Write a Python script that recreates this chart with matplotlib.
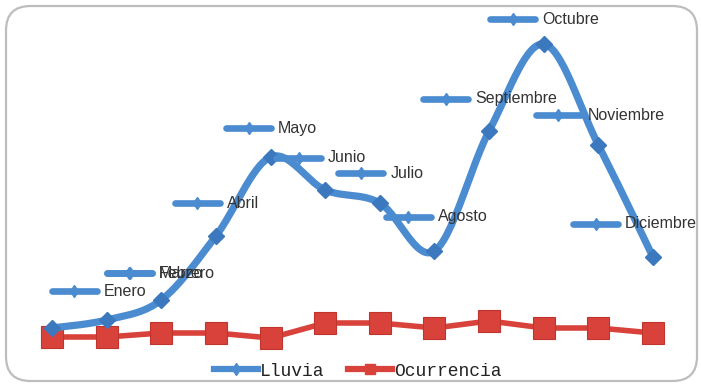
import numpy as np
import matplotlib.pyplot as plt
from matplotlib.lines import Line2D
from matplotlib.patches import FancyBboxPatch
from matplotlib.offsetbox import AnnotationBbox, DrawingArea, TextArea, HPacker

meses = ["Enero", "Febrero", "Marzo", "Abril", "Mayo", "Junio", "Julio",
         "Agosto", "Septiembre", "Octubre", "Noviembre", "Diciembre"]
lluvia = [22, 30, 50, 114, 193, 160, 147, 99, 219, 306, 205, 93]
ocurrencia = [13, 13, 17, 17, 12, 27, 27, 22, 29, 22, 22, 17]

# label box offsets (px right, px up) from each point
label_off = [(47, 37), (54, 47), (-6, 27), (1, 33), (1, 29), (-4, 32), (1, 30),
             (2, 34), (1, 32), (1, 25), (2, 30), (-18, 33)]

AZUL = "#4b8bd0"
AZUL_OSC = "#3b78bd"
ROJO = "#d8423a"
ROJO_OSC = "#bf342d"
PT = 72 / 100  # px -> pt at dpi 100


def catmull_rom(x, y, n=30):
    x = np.asarray(x, float)
    y = np.asarray(y, float)
    px = np.concatenate([[x[0]], x, [x[-1]]])
    py = np.concatenate([[y[0]], y, [y[-1]]])
    xs, ys = [], []
    t = np.linspace(0, 1, n)
    for i in range(1, len(px) - 2):
        for p, out in ((px, xs), (py, ys)):
            p0, p1, p2, p3 = p[i - 1], p[i], p[i + 1], p[i + 2]
            out.append(0.5 * (2 * p1 + (-p0 + p2) * t
                              + (2 * p0 - 5 * p1 + 4 * p2 - p3) * t ** 2
                              + (-p0 + 3 * p1 - 3 * p2 + p3) * t ** 3))
    return np.concatenate(xs), np.concatenate(ys)


fig = plt.figure(figsize=(7.01, 3.85), dpi=100)
ax = fig.add_axes([0, 0, 1, 1])
ax.set_xlim(-0.952, 11.879)
ax.set_ylim(-35, 350)
ax.axis("off")

# rounded frame
fig.patches.append(FancyBboxPatch((6 / 701, 4 / 385), 691 / 701, 375 / 385,
                                  boxstyle="round,pad=0,rounding_size=0.035",
                                  transform=fig.transFigure, fill=False,
                                  ec="#bdbdbd", lw=1.6, mutation_aspect=701 / 385))

x = np.arange(len(meses))

# Ocurrencia: straight segments with squares
ax.plot(x, ocurrencia, color=ROJO, lw=4, zorder=3)
ax.plot(x, ocurrencia, ls="none", marker="s", ms=15.5, mfc=ROJO, mec=ROJO_OSC,
        mew=0.8, zorder=4)

# Lluvia: smoothed line with diamonds
sx, sy = catmull_rom(x, lluvia)
ax.plot(sx, sy, color=AZUL, lw=5.2, solid_capstyle="round", zorder=5)
ax.plot(x, lluvia, ls="none", marker="D", ms=8, mfc=AZUL_OSC, mec=AZUL_OSC, zorder=6)


def clave(color, marker, ms, lw):
    da = DrawingArea(45 * PT, 10 * PT, 0, 0)
    da.add_artist(Line2D([0, 45 * PT], [5 * PT, 5 * PT], color=color, lw=lw,
                         solid_capstyle="round"))
    da.add_artist(Line2D([22.5 * PT], [5 * PT], marker=marker, ms=ms,
                         color=color, mec=color))
    return da


for i, (mes, v) in enumerate(zip(meses, lluvia)):
    dx, dy = label_off[i]
    caja = HPacker(children=[clave(AZUL, "d", 6, 4.8),
                             TextArea(mes, textprops=dict(fontsize=11.5, color="#333333",
                                                          family="Liberation Sans"))],
                   align="center", pad=0, sep=5)
    ab = AnnotationBbox(caja, (i, v), xybox=(dx * PT, dy * PT), xycoords="data",
                        boxcoords="offset points", box_alignment=(0.5, 0.5),
                        frameon=False, pad=0, zorder=7)
    ax.add_artist(ab)

handles = [Line2D([], [], color=AZUL, lw=4.5, marker="d", ms=6, mec=AZUL),
           Line2D([], [], color=ROJO, lw=4.5, marker="s", ms=7, mec=ROJO)]
fig.legend(handles, ["Lluvia", "Ocurrencia"], loc="center",
           bbox_to_anchor=(358 / 701, 1 - 371 / 385), ncol=2, frameon=False,
           prop=dict(family="Liberation Mono", size=13), handlelength=2.4,
           handletextpad=0.15, columnspacing=1.3, labelcolor="#222222")

fig.savefig("out.png", dpi=100)
